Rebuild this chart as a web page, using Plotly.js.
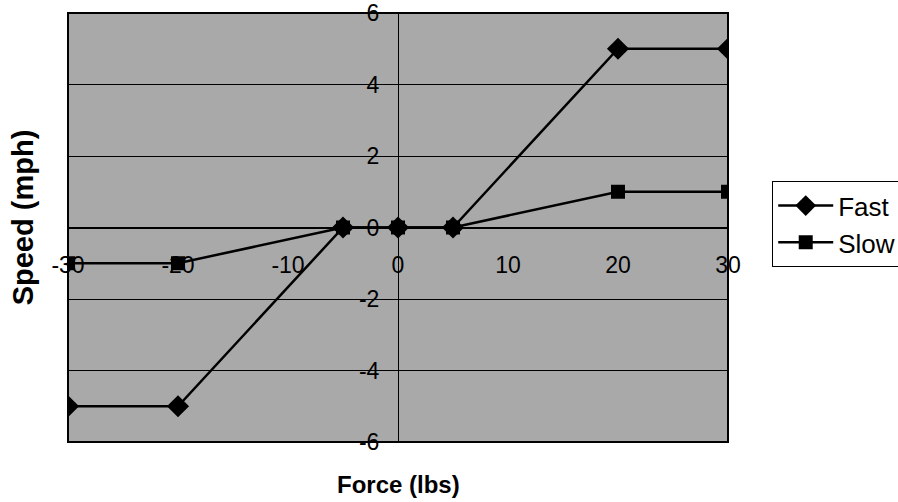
<!DOCTYPE html>
<html>
<head>
<meta charset="utf-8">
<script src="https://cdn.plot.ly/plotly-3.0.1.min.js"></script>
<style>html,body{margin:0;padding:0;background:#fff;}#chart{width:898px;height:502px;}</style>
</head>
<body>
<div id="chart"></div>
<script>
const force = [-30, -20, -5, 0, 5, 20, 30];
const fastSpeed = [-5, -5, 0, 0, 0, 5, 5];
const slowSpeed = [-1, -1, 0, 0, 0, 1, 1];
const xTicks = [-30, -20, -10, 0, 10, 20, 30];
const yTicks = [-6, -4, -2, 0, 2, 4, 6];
const seriesNames = ['Fast', 'Slow'];
const xTitle = 'Force (lbs)';
const yTitle = 'Speed (mph)';

const FONT = 'Liberation Sans, Arial, sans-serif';

const traces = [
  {
    x: force, y: fastSpeed, name: seriesNames[0], type: 'scatter', mode: 'lines+markers',
    line: {color: '#000', width: 2.5},
    marker: {symbol: 'diamond', size: 17, color: '#000'}
  },
  {
    x: force, y: slowSpeed, name: seriesNames[1], type: 'scatter', mode: 'lines+markers',
    line: {color: '#000', width: 2.5},
    marker: {symbol: 'square', size: 14, color: '#000'}
  }
];

const layout = {
  width: 898, height: 502,
  margin: {l: 68, r: 170, t: 13, b: 60, autoexpand: false},
  paper_bgcolor: '#fff',
  plot_bgcolor: '#a9a9a9',
  font: {family: FONT, size: 22, color: '#000'},
  showlegend: true,
  legend: {
    x: 1.067, xanchor: 'left', y: 0.608, yanchor: 'top',
    bgcolor: '#fff', bordercolor: '#000', borderwidth: 1,
    font: {family: FONT, size: 26, color: '#000'},
    itemwidth: 55,
    tracegroupgap: 0
  },
  xaxis: {
    range: [-30, 30], tickvals: xTicks, ticktext: xTicks.map(String),
    showgrid: false, zeroline: false,
    showline: true, linecolor: '#000', linewidth: 1,
    anchor: 'free', position: 0.5,
    ticks: '', ticklabelstandoff: 17,
    tickfont: {family: FONT, size: 23, color: '#000'}
  },
  yaxis: {
    range: [-6, 6], tickvals: yTicks, ticktext: yTicks.map(String),
    showgrid: true, gridcolor: '#000', gridwidth: 1, zeroline: false,
    showline: true, linecolor: '#000', linewidth: 1,
    anchor: 'free', position: 0.5,
    ticks: '', ticklabelstandoff: 14,
    tickfont: {family: FONT, size: 23, color: '#000'}
  },
  shapes: [
    {type: 'rect', xref: 'paper', yref: 'paper', x0: 0, x1: 1, y0: 0, y1: 1,
     line: {color: '#000', width: 2}, fillcolor: 'rgba(0,0,0,0)'}
  ],
  annotations: [
    {text: '<b>' + xTitle + '</b>', xref: 'paper', yref: 'paper', x: 0.5, y: -0.1,
     xanchor: 'center', yanchor: 'middle', showarrow: false,
     font: {family: FONT, size: 24, color: '#000'}},
    {text: '<b>' + yTitle + '</b>', xref: 'paper', yref: 'paper', x: -0.068, y: 0.524,
     xanchor: 'center', yanchor: 'middle', showarrow: false, textangle: -90,
     font: {family: FONT, size: 29, color: '#000'}}
  ]
};

Plotly.newPlot('chart', traces, layout, {displayModeBar: false, staticPlot: true});
</script>
</body>
</html>
